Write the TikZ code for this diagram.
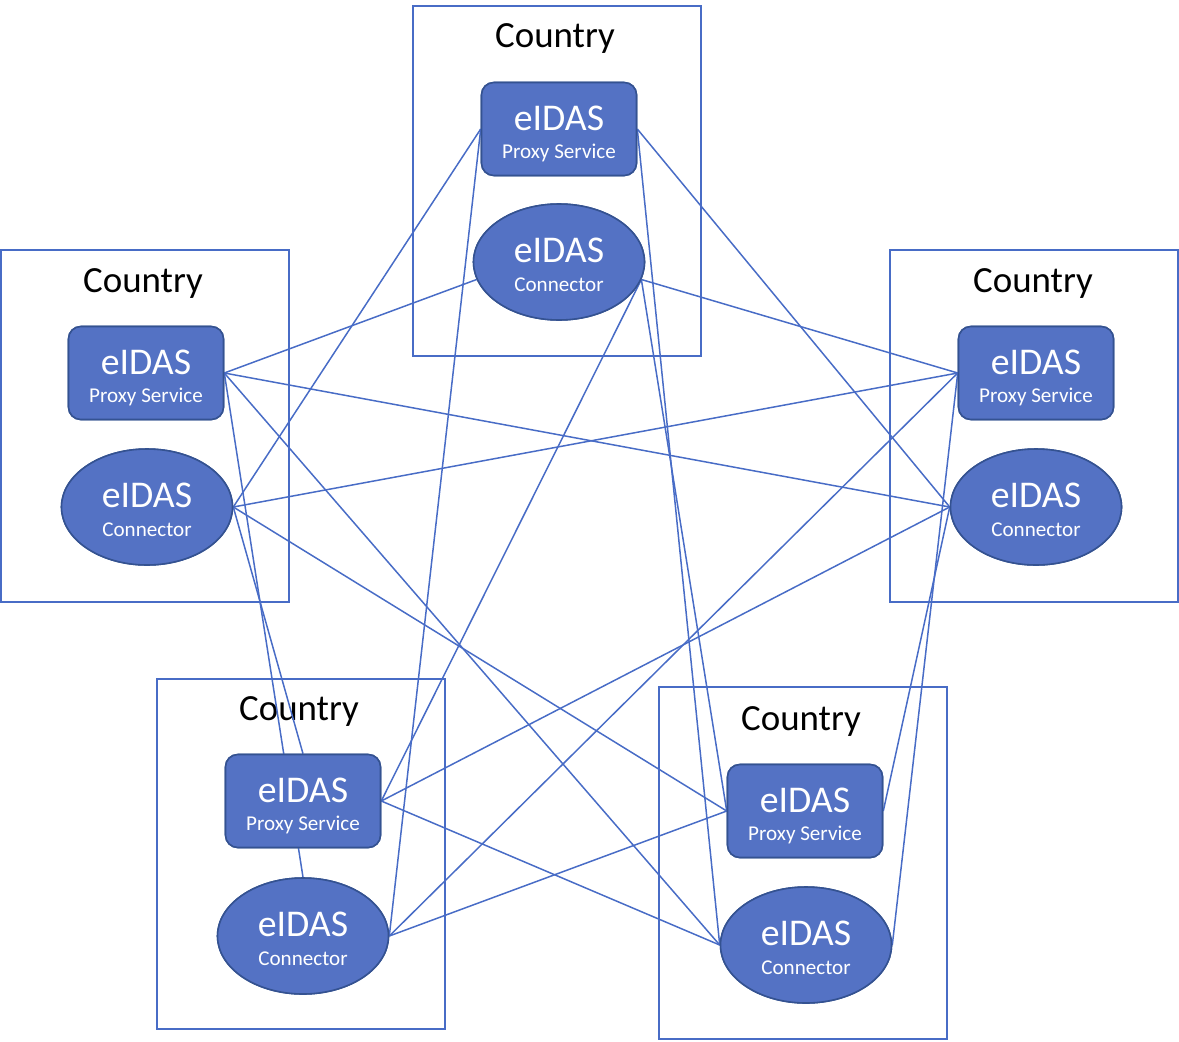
\documentclass[tikz,border=0pt]{standalone}
\usepackage{fontspec}
\setmainfont{Carlito}
\usetikzlibrary{shapes.geometric}
\definecolor{nodefill}{RGB}{84,114,196}
\definecolor{nodeborder}{RGB}{52,82,145}
\definecolor{linkblue}{RGB}{72,108,198}
\tikzset{
  countrybox/.style={draw=linkblue, line width=0.9pt},
  proxybox/.style={draw=nodeborder, fill=nodefill, line width=0.9pt, rounded corners=7pt,
    minimum width=155*0.02cm, minimum height=93*0.02cm, inner sep=0pt},
  connbox/.style={draw=nodeborder, fill=nodefill, line width=0.9pt, ellipse,
    minimum width=171*0.02cm, minimum height=116*0.02cm, inner sep=0pt},
  bigtxt/.style={text=white, anchor=base, inner sep=0pt, font=\fontsize{21.5}{24}\selectfont},
  smalltxt/.style={text=white, anchor=base, inner sep=0pt, font=\fontsize{12}{14}\selectfont},
  countrytxt/.style={text=black, anchor=base, inner sep=0pt, font=\fontsize{21}{24}\selectfont},
  link/.style={draw=linkblue, line width=0.85pt}
}
\begin{document}
\begin{tikzpicture}[x=0.02cm, y=-0.02cm]
\useasboundingbox (0,0) rectangle (1179,1041);
% country boxes
\draw[countrybox] (413,6) rectangle (701,356);
\draw[countrybox] (1,250) rectangle (289,602);
\draw[countrybox] (890,250) rectangle (1178,602);
\draw[countrybox] (157,679) rectangle (445,1029);
\draw[countrybox] (659,687) rectangle (947,1039);
\node[countrytxt] (ctop) at (555,47) {Country};
\node[countrytxt] (cleft) at (143,292) {Country};
\node[countrytxt] (cright) at (1033,292) {Country};
\node[countrytxt] (cbl) at (299,720) {Country};
\node[countrytxt] (cbr) at (801,730) {Country};
% shape coordinates (drawn later, defined here for links)
\path (559,129) node[proxybox] (tps) {};
\path (559,262) node[connbox] (tc) {};
\path (146,373) node[proxybox] (lps) {};
\path (147,507) node[connbox] (lc) {};
\path (1036,373) node[proxybox] (rps) {};
\path (1036,507) node[connbox] (rc) {};
\path (303,801) node[proxybox] (blps) {};
\path (303,936) node[connbox] (blc) {};
\path (805,811) node[proxybox] (brps) {};
\path (806,945) node[connbox] (brc) {};
% links
\draw[link] (tps.west) -- (lc.east);
\draw[link] (tps.west) -- (blc.east);
\draw[link] (tps.east) -- (rc.west);
\draw[link] (tps.east) -- (brc.west);
\draw[link] (tc.-12) -- (rps.west);
\draw[link] (tc.-12) -- (brps.west);
\draw[link] (tc.-12) -- (blps.east);
\draw[link] (tc.192) -- (lps.east);
\draw[link] (lps.east) -- (rc.west);
\draw[link] (lps.east) -- (brc.west);
\draw[link] (lps.east) -- (blc.north);
\draw[link] (lc.east) -- (rps.west);
\draw[link] (lc.east) -- (brps.west);
\draw[link] (lc.east) -- (blps.north);
\draw[link] (rps.west) -- (blc.east);
\draw[link] (rps.west) -- (brc.east);
\draw[link] (rc.west) -- (blps.east);
\draw[link] (rc.west) -- (brps.east);
\draw[link] (blps.east) -- (brc.west);
\draw[link] (blc.east) -- (brps.west);
% nodes on top
\foreach \n in {tps,lps,rps,blps,brps}{
  \node[proxybox] at (\n.center) {};
}
\foreach \n in {tc,lc,rc,blc,brc}{
  \node[connbox] at (\n.center) {};
}
% texts
\foreach \n in {tps,lps,rps,blps,brps}{
  \node[bigtxt] (\n-a) at ([yshift=1*-0.02cm]\n.center) {eIDAS};
  \node[smalltxt] (\n-b) at ([yshift=29*-0.02cm]\n.center) {Proxy Service};
}
\foreach \n in {tc,lc,rc,blc,brc}{
  \node[bigtxt] (\n-a) at ([yshift=0*-0.02cm]\n.center) {eIDAS};
  \node[smalltxt] (\n-b) at ([yshift=29*-0.02cm]\n.center) {Connector};
}
\end{tikzpicture}
\end{document}
